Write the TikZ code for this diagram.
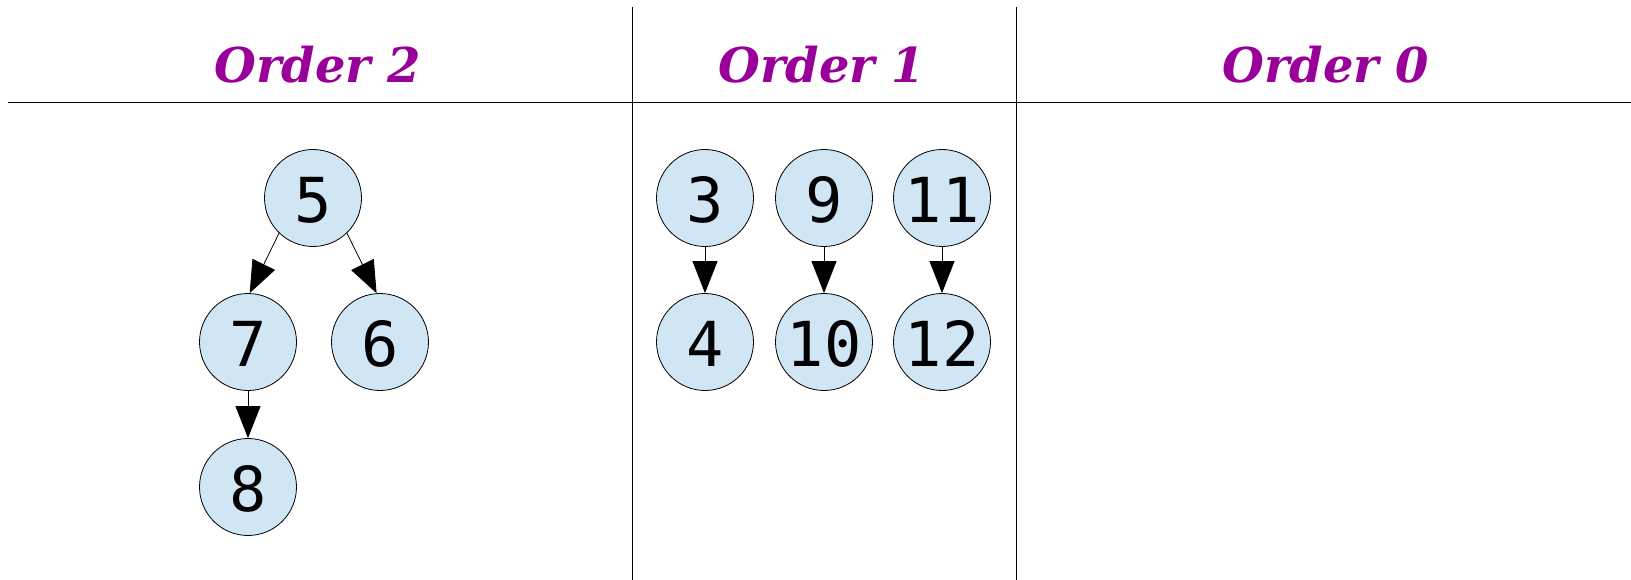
\documentclass[tikz,border=0pt]{standalone}
\usepackage{fontspec}
\usetikzlibrary{arrows.meta}
\newfontfamily\keyfont{DejaVu Sans Mono}
\newfontfamily\headfont{DejaVu Serif}
\definecolor{headpurple}{HTML}{990099}
\definecolor{heapblue}{HTML}{D0E6F4}

\begin{document}
\begin{tikzpicture}[x=1pt, y=-1pt]
  \tikzset{
    heap_node/.style={circle, fill=heapblue, draw, line width=0.8pt, inner sep=0pt, minimum size=97pt, text height=49pt, text depth=0pt, font=\keyfont\fontsize{62}{62}\selectfont},
    order_label/.style={anchor=base, text=headpurple, font=\headfont\bfseries\itshape\fontsize{48}{48}\selectfont},
    heap_edge/.style={line width=0.8pt, -{Triangle[length=32pt, width=25pt]}}
  }

  % Marco de la figura
  \useasboundingbox (0,0) rectangle (1631,580);

  % Encabezados y separadores
  \node[order_label] (h2) at (318,83) {Order 2};
  \node[order_label] (h1) at (822,83) {Order 1};
  \node[order_label] (h0) at (1326,83) {Order 0};
  \draw[line width=0.8pt] (8,102) -- (1631,102);
  \draw[line width=0.8pt] (632,7) -- (632,580);
  \draw[line width=0.8pt] (1016,7) -- (1016,580);

  % Arbol de orden 2
  \node[heap_node] (n5) at (313,198) {5};
  \node[heap_node] (n7) at (248,342) {7};
  \node[heap_node] (n6) at (380,342) {6};
  \node[heap_node] (n8) at (248,487) {8};

  % Arboles de orden 1
  \node[heap_node] (n3) at (705,198) {3};
  \node[heap_node] (n4) at (705,342) {4};
  \node[heap_node] (n9) at (824,198) {9};
  \node[heap_node] (n10) at (824,342) {10};
  \node[heap_node] (n11) at (942,198) {11};
  \node[heap_node] (n12) at (942,342) {12};

  % Aristas
  \draw[heap_edge] (n5.226) -- (n7.88);
  \draw[heap_edge] (n5.314) -- (n6.94);
  \draw[heap_edge] (n7) -- (n8);
  \draw[heap_edge] (n3) -- (n4);
  \draw[heap_edge] (n9) -- (n10);
  \draw[heap_edge] (n11) -- (n12);
\end{tikzpicture}
\end{document}
